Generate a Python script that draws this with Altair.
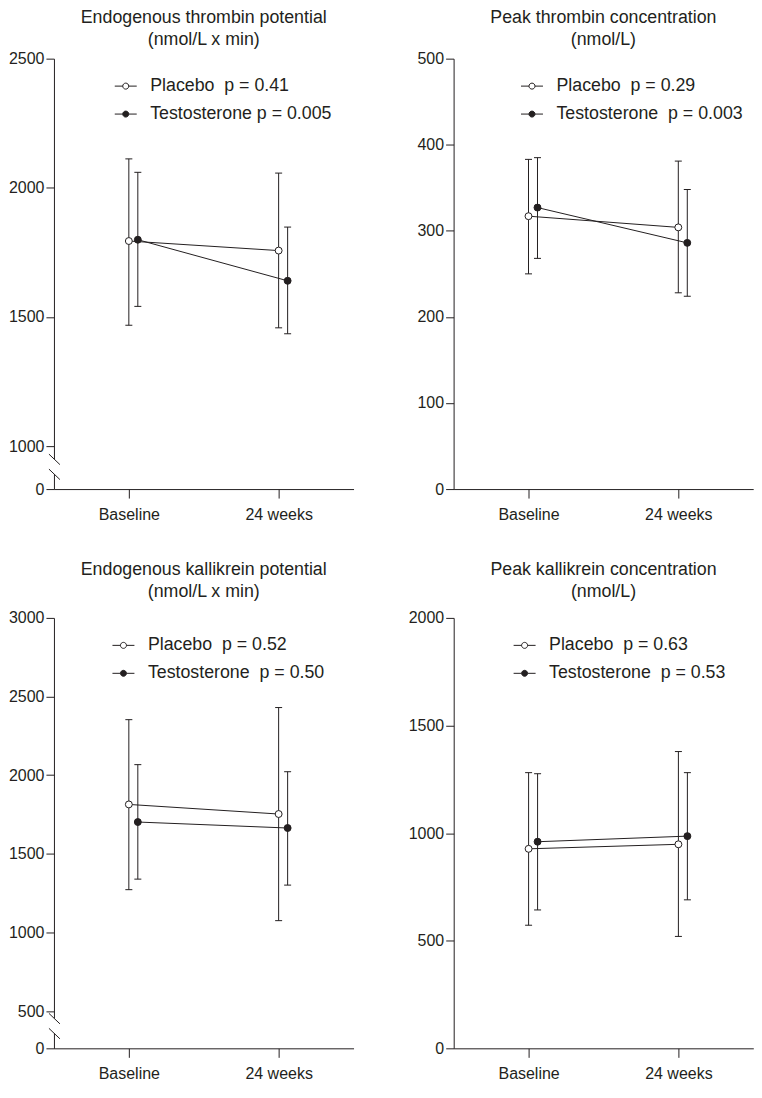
import altair as alt
import pandas as pd

COLOR = "#231f20"
FONT = "Liberation Sans"

timepoints = ["Baseline", "24 weeks"]
groups = ["Placebo", "Testosterone"]

# Endogenous thrombin potential (nmol/L x min)
etp_placebo_mean = [1794, 1757]
etp_placebo_low = [1468, 1458]
etp_placebo_high = [2112, 2057]
etp_testo_mean = [1799, 1640]
etp_testo_low = [1541, 1435]
etp_testo_high = [2060, 1848]
etp_legend = ["Placebo\u00a0\u00a0p = 0.41", "Testosterone p = 0.005"]

# Peak thrombin concentration (nmol/L)
pt_placebo_mean = [317, 304]
pt_placebo_low = [250, 228]
pt_placebo_high = [383, 381]
pt_testo_mean = [327, 286]
pt_testo_low = [268, 224]
pt_testo_high = [385, 348]
pt_legend = ["Placebo\u00a0\u00a0p = 0.29", "Testosterone\u00a0\u00a0p = 0.003"]

# Endogenous kallikrein potential (nmol/L x min)
ekp_placebo_mean = [1814, 1753]
ekp_placebo_low = [1272, 1075]
ekp_placebo_high = [2353, 2430]
ekp_testo_mean = [1702, 1664]
ekp_testo_low = [1339, 1301]
ekp_testo_high = [2067, 2022]
ekp_legend = ["Placebo\u00a0\u00a0p = 0.52", "Testosterone\u00a0\u00a0p = 0.50"]

# Peak kallikrein concentration (nmol/L)
pk_placebo_mean = [927, 948]
pk_placebo_low = [572, 520]
pk_placebo_high = [1281, 1379]
pk_testo_mean = [960, 986]
pk_testo_low = [643, 690]
pk_testo_high = [1276, 1281]
pk_legend = ["Placebo\u00a0\u00a0p = 0.63", "Testosterone\u00a0\u00a0p = 0.53"]

W, H = 300, 431
TXT = 17.8

# legend symbol: short line with a circle in the middle
R = 0.273
SYMBOL = (f"M-1,0L{-R},0M{R},0L1,0M{-R},0A{R},{R},0,1,0,{R},0A{R},{R},0,1,0,{-R},0Z")


def make_df(series, labels):
    rows = []
    for gi, (m, lo, hi) in enumerate(series):
        for ti in range(len(timepoints)):
            rows.append(dict(group=groups[gi], label=labels[gi], t=ti,
                             time=timepoints[ti], mean=m[ti], low=lo[ti], high=hi[ti]))
    return pd.DataFrame(rows)


label_expr = " : ".join(
    [f"datum.value == {i + 1} ? '{t}'" for i, t in enumerate(timepoints[:-1])]
    + [f"'{timepoints[-1]}'"])


def panel(title, df, labels, y_domain, y_range, y_ticks, legend_xy, title_offset, brk):
    base = alt.Chart(df).transform_calculate(
        xpos="datum.t + 1 + (datum.group == 'Testosterone' ? 0.06 : 0)")
    x = alt.X("xpos:Q", title=None,
              scale=alt.Scale(domain=[0.5, 2.5], nice=False, zero=False),
              axis=alt.Axis(values=[1, 2], labelExpr=label_expr, tickSize=9,
                            labelPadding=8, labelFontSize=16))
    if y_range is not None:
        yscale = alt.Scale(domain=y_domain, range=y_range, nice=False, zero=False)
    else:
        yscale = alt.Scale(domain=y_domain, nice=False, zero=False)
    yaxis = alt.Axis(values=y_ticks, format="d", tickSize=8, labelPadding=2, labelFontSize=16)

    err = base.mark_rule(color=COLOR, strokeWidth=1).encode(
        x=x, y=alt.Y("low:Q", title=None, scale=yscale, axis=yaxis), y2="high:Q")
    cap_lo = base.mark_tick(orient="horizontal", size=7, thickness=1, color=COLOR, opacity=1).encode(
        x=x, y=alt.Y("low:Q", title=None, scale=yscale, axis=yaxis))
    cap_hi = base.mark_tick(orient="horizontal", size=7, thickness=1, color=COLOR, opacity=1).encode(
        x=x, y=alt.Y("high:Q", title=None, scale=yscale, axis=yaxis))
    y = alt.Y("mean:Q", title=None, scale=yscale, axis=yaxis)
    line = base.mark_line(color=COLOR, strokeWidth=1).encode(
        x=x, y=y, detail="group:N")
    pts = base.mark_point(filled=True, size=48, stroke=COLOR, strokeWidth=1, opacity=1).encode(
        x=x, y=y,
        fill=alt.Fill("label:N",
                      scale=alt.Scale(domain=labels, range=["white", COLOR]),
                      legend=alt.Legend(title=None, orient="none",
                                        legendX=legend_xy[0], legendY=legend_xy[1],
                                        symbolType=SYMBOL, symbolSize=484,
                                        symbolStrokeWidth=1, symbolStrokeColor=COLOR,
                                        symbolOpacity=1, labelLimit=0,
                                        labelFont=FONT, labelFontSize=TXT,
                                        labelColor=COLOR, labelOffset=13,
                                        rowPadding=7, padding=0,
                                        direction="vertical")))
    layers = [err, cap_lo, cap_hi, line, pts]
    if brk:
        one = pd.DataFrame({"k": [0]})
        gap = alt.Chart(one).mark_rule(color="white", strokeWidth=4).encode(
            x=alt.value(0), y=alt.value(H - 30), y2=alt.value(H - 15))
        s1 = alt.Chart(one).mark_rule(color=COLOR, strokeWidth=1).encode(
            x=alt.value(-5), x2=alt.value(6), y=alt.value(H - 35), y2=alt.value(H - 24.5))
        s2 = alt.Chart(one).mark_rule(color=COLOR, strokeWidth=1).encode(
            x=alt.value(-5), x2=alt.value(6), y=alt.value(H - 20), y2=alt.value(H - 9.5))
        layers += [gap, s1, s2]
    return alt.layer(*layers).properties(
        width=W, height=H,
        title=alt.TitleParams(text=title[0], subtitle=title[1],
                              fontSize=TXT, fontWeight="normal", font=FONT, color=COLOR,
                              subtitleFontSize=TXT, subtitleFont=FONT, subtitleColor=COLOR,
                              subtitlePadding=4,
                              anchor="middle", frame="group", offset=title_offset))


df1 = make_df([(etp_placebo_mean, etp_placebo_low, etp_placebo_high),
               (etp_testo_mean, etp_testo_low, etp_testo_high)], etp_legend)
df2 = make_df([(pt_placebo_mean, pt_placebo_low, pt_placebo_high),
               (pt_testo_mean, pt_testo_low, pt_testo_high)], pt_legend)
df3 = make_df([(ekp_placebo_mean, ekp_placebo_low, ekp_placebo_high),
               (ekp_testo_mean, ekp_testo_low, ekp_testo_high)], ekp_legend)
df4 = make_df([(pk_placebo_mean, pk_placebo_low, pk_placebo_high),
               (pk_testo_mean, pk_testo_low, pk_testo_high)], pk_legend)

p1 = panel(["Endogenous thrombin potential", "(nmol/L x min)"], df1, etp_legend,
           [0, 1000, 2500], [H, H - 43, 0], [0, 1000, 1500, 2000, 2500], (60.4, 16), 2, True)
p2 = panel(["Peak thrombin concentration", "(nmol/L)"], df2, pt_legend,
           [0, 500], None, [0, 100, 200, 300, 400, 500], (67, 16), 2, False)
p3 = panel(["Endogenous kallikrein potential", "(nmol/L x min)"], df3, ekp_legend,
           [0, 500, 3000], [H, H - 37.3, 0], [0, 500, 1000, 1500, 2000, 2500, 3000], (58.1, 16), 9, True)
p4 = panel(["Peak kallikrein concentration", "(nmol/L)"], df4, pk_legend,
           [0, 2000], None, [0, 500, 1000, 1500, 2000], (59.5, 16), 9, False)

row1 = alt.hconcat(p1, p2, spacing=63.2).resolve_scale(fill="independent").resolve_legend(fill="independent")
row2 = alt.hconcat(p3, p4, spacing=54.3).resolve_scale(fill="independent").resolve_legend(fill="independent")

chart = alt.vconcat(row1, row2, spacing=39).resolve_scale(
    fill="independent").resolve_legend(fill="independent").properties(
    padding=0).configure_view(stroke=None).configure_axis(
    grid=False, domainColor=COLOR, tickColor=COLOR, labelColor=COLOR,
    labelFont=FONT, domainWidth=1, tickWidth=1)

chart.save("out.html", embed_options={"renderer": "svg", "actions": False})
